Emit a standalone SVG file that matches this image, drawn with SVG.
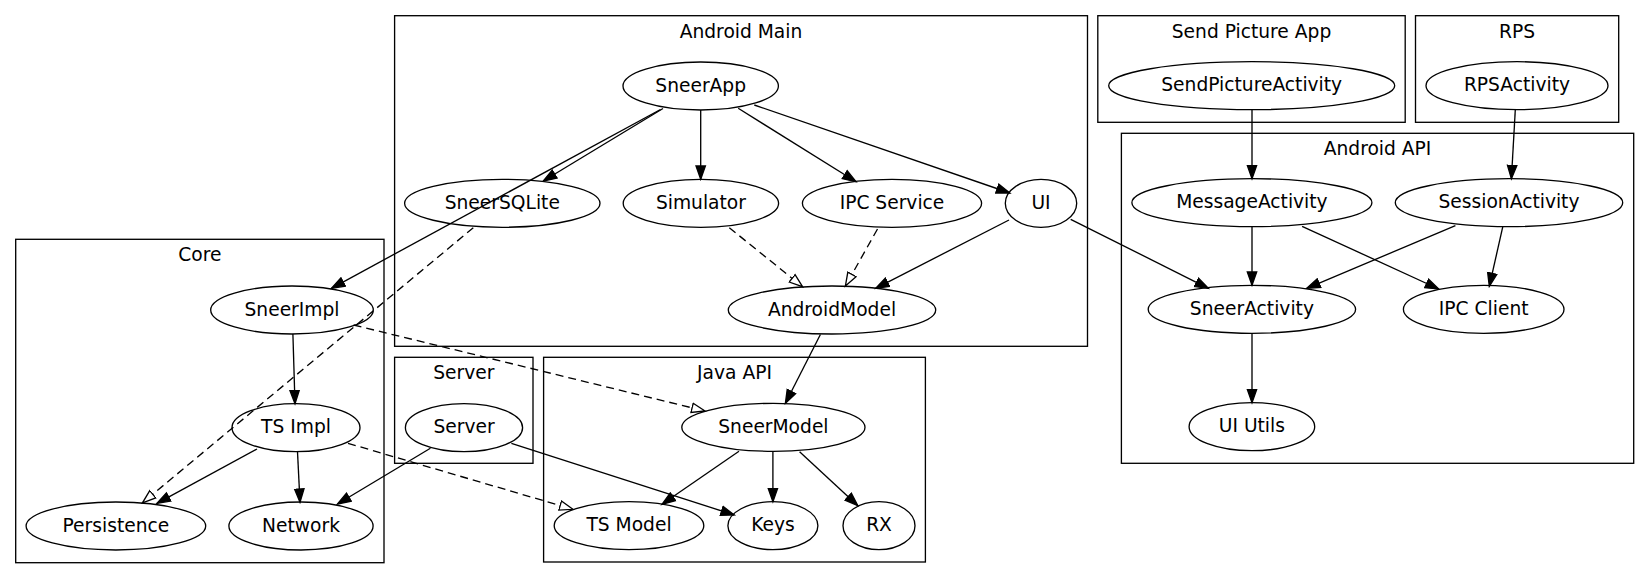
<svg xmlns="http://www.w3.org/2000/svg" width="1649" height="579" viewBox="0 0 1649 579">
<style>
text{font-family:"DejaVu Sans","Liberation Sans",sans-serif;font-size:18.67px;text-anchor:middle;fill:#000}
.cl{fill:none;stroke:#000;stroke-width:1.33}
.nd{fill:none;stroke:#000;stroke-width:1.33}
.e{fill:none;stroke:#000;stroke-width:1.33;marker-end:url(#arr)}
.d{fill:none;stroke:#000;stroke-width:1.33;stroke-dasharray:8,5;marker-end:url(#harr)}
</style>
<defs>
<marker id="arr" markerUnits="userSpaceOnUse" markerWidth="16" markerHeight="12" viewBox="-14 -6 16 12" refX="0" refY="0" orient="auto">
<path d="M0,0 L-13.3,-4.7 L-13.3,4.7 Z" fill="#000" stroke="#000" stroke-width="1.33" stroke-dasharray="none"/>
</marker>
<marker id="harr" markerUnits="userSpaceOnUse" markerWidth="16" markerHeight="12" viewBox="-14 -6 16 12" refX="0" refY="0" orient="auto">
<path d="M0,0 L-13.3,-4.7 L-13.3,4.7 Z" fill="#fff" stroke="#000" stroke-width="1.33" stroke-dasharray="none"/>
</marker>
</defs>
<rect width="1649" height="579" fill="#fff"/>
<g id="clusters">
<g id="cluster_core"><rect class="cl" x="15.7" y="239.3" width="368.3" height="323.4"/><text x="199.9" y="261.1">Core</text></g>
<g id="cluster_android_main"><rect class="cl" x="394.6" y="15.7" width="692.9" height="330.6"/><text x="741" y="37.5">Android Main</text></g>
<g id="cluster_server"><rect class="cl" x="394.6" y="357.3" width="138.4" height="106"/><text x="463.8" y="379.1">Server</text></g>
<g id="cluster_java_api"><rect class="cl" x="543.6" y="357.3" width="381.8" height="204.7"/><text x="734.5" y="379.1">Java API</text></g>
<g id="cluster_send_picture"><rect class="cl" x="1097.8" y="15.7" width="307.4" height="106.6"/><text x="1251.5" y="37.5">Send Picture App</text></g>
<g id="cluster_rps"><rect class="cl" x="1415.5" y="15.7" width="203.2" height="106.6"/><text x="1517.1" y="37.5">RPS</text></g>
<g id="cluster_android_api"><rect class="cl" x="1121.4" y="133.3" width="512.3" height="330"/><text x="1377.5" y="155.1">Android API</text></g>
</g>
<g id="connectors">
<path class="e" d="M663,108.5 L543.3,181"/>
<path class="e" d="M660.5,109.5 L331.5,288.3"/>
<path class="e" d="M700.7,110 L700.7,179.3"/>
<path class="e" d="M738.2,108.3 L856,181.7"/>
<path class="e" d="M754.3,105 L1009.8,193"/>
<path class="d" d="M729.3,227.7 L802.5,286.7"/>
<path class="d" d="M877.5,229 L845.4,286"/>
<path class="e" d="M1009,220 L875.7,288.3"/>
<path class="e" d="M1070.7,219.3 L1208.3,288.3"/>
<path class="e" d="M820.4,334.5 L785.4,403.3"/>
<path class="d" d="M473.3,227.7 L142.5,502.8"/>
<path class="e" d="M292.9,334 L295,403.7"/>
<path class="d" d="M353.6,325 L705,411"/>
<path class="e" d="M257,449 L157,503.3"/>
<path class="e" d="M297.5,451.7 L300,502.3"/>
<path class="d" d="M348,443.3 L572.9,509.3"/>
<path class="e" d="M430.4,448.3 L337.5,504"/>
<path class="e" d="M511.4,443.3 L734.3,515"/>
<path class="e" d="M739,451.3 L662,504.3"/>
<path class="e" d="M772.9,451.3 L772.9,501.7"/>
<path class="e" d="M799.6,451.7 L857.9,505.7"/>
<path class="e" d="M1252,109.7 L1252,178.7"/>
<path class="e" d="M1515.3,109.7 L1511.4,178.7"/>
<path class="e" d="M1252,226.7 L1252,285.3"/>
<path class="e" d="M1302.1,226.3 L1438.7,289"/>
<path class="e" d="M1455.4,225.7 L1306.8,288.3"/>
<path class="e" d="M1502.8,226.7 L1489.3,286.3"/>
<path class="e" d="M1252,333.3 L1252,402.7"/>
</g>
<g id="SneerApp"><ellipse class="nd" cx="700.7" cy="86" rx="77.7" ry="24"/><text x="700.7" y="91.6">SneerApp</text></g>
<g id="SneerSQLite"><ellipse class="nd" cx="502.3" cy="203.3" rx="97.7" ry="24"/><text x="502.3" y="208.9">SneerSQLite</text></g>
<g id="Simulator"><ellipse class="nd" cx="700.9" cy="203.3" rx="77.7" ry="24"/><text x="700.9" y="208.9">Simulator</text></g>
<g id="IPCService"><ellipse class="nd" cx="892" cy="203.3" rx="89.6" ry="24"/><text x="892" y="208.9">IPC Service</text></g>
<g id="UI"><ellipse class="nd" cx="1041" cy="203.3" rx="35.7" ry="24"/><text x="1041" y="208.9">UI</text></g>
<g id="AndroidModel"><ellipse class="nd" cx="832" cy="310" rx="103.7" ry="24"/><text x="832" y="315.6">AndroidModel</text></g>
<g id="SneerImpl"><ellipse class="nd" cx="292" cy="310" rx="81.3" ry="24"/><text x="292" y="315.6">SneerImpl</text></g>
<g id="TSImpl"><ellipse class="nd" cx="296" cy="427.7" rx="64" ry="24"/><text x="296" y="433.3">TS Impl</text></g>
<g id="Persistence"><ellipse class="nd" cx="115.9" cy="526" rx="89.8" ry="24"/><text x="115.9" y="531.6">Persistence</text></g>
<g id="Network"><ellipse class="nd" cx="301" cy="526" rx="72.1" ry="24"/><text x="301" y="531.6">Network</text></g>
<g id="Server"><ellipse class="nd" cx="464" cy="427.7" rx="58.6" ry="24"/><text x="464" y="433.3">Server</text></g>
<g id="SneerModel"><ellipse class="nd" cx="773.4" cy="427.3" rx="91.6" ry="24"/><text x="773.4" y="432.9">SneerModel</text></g>
<g id="TSModel"><ellipse class="nd" cx="629" cy="525.7" rx="74.8" ry="24"/><text x="629" y="531.3">TS Model</text></g>
<g id="Keys"><ellipse class="nd" cx="772.9" cy="525.7" rx="45" ry="24"/><text x="772.9" y="531.3">Keys</text></g>
<g id="RX"><ellipse class="nd" cx="879" cy="525.7" rx="36" ry="24"/><text x="879" y="531.3">RX</text></g>
<g id="SendPictureActivity"><ellipse class="nd" cx="1251.7" cy="85.7" rx="143" ry="24"/><text x="1251.7" y="91.3">SendPictureActivity</text></g>
<g id="RPSActivity"><ellipse class="nd" cx="1517" cy="85.7" rx="91" ry="24"/><text x="1517" y="91.3">RPSActivity</text></g>
<g id="MessageActivity"><ellipse class="nd" cx="1251.9" cy="202.7" rx="120" ry="24"/><text x="1251.9" y="208.3">MessageActivity</text></g>
<g id="SessionActivity"><ellipse class="nd" cx="1509" cy="202.7" rx="113.7" ry="24"/><text x="1509" y="208.3">SessionActivity</text></g>
<g id="SneerActivity"><ellipse class="nd" cx="1251.9" cy="309.3" rx="103.7" ry="24"/><text x="1251.9" y="314.9">SneerActivity</text></g>
<g id="IPCClient"><ellipse class="nd" cx="1483.7" cy="309.3" rx="80.3" ry="24"/><text x="1483.7" y="314.9">IPC Client</text></g>
<g id="UIUtils"><ellipse class="nd" cx="1251.9" cy="426.7" rx="62.8" ry="24"/><text x="1251.9" y="432.3">UI Utils</text></g>
</svg>
